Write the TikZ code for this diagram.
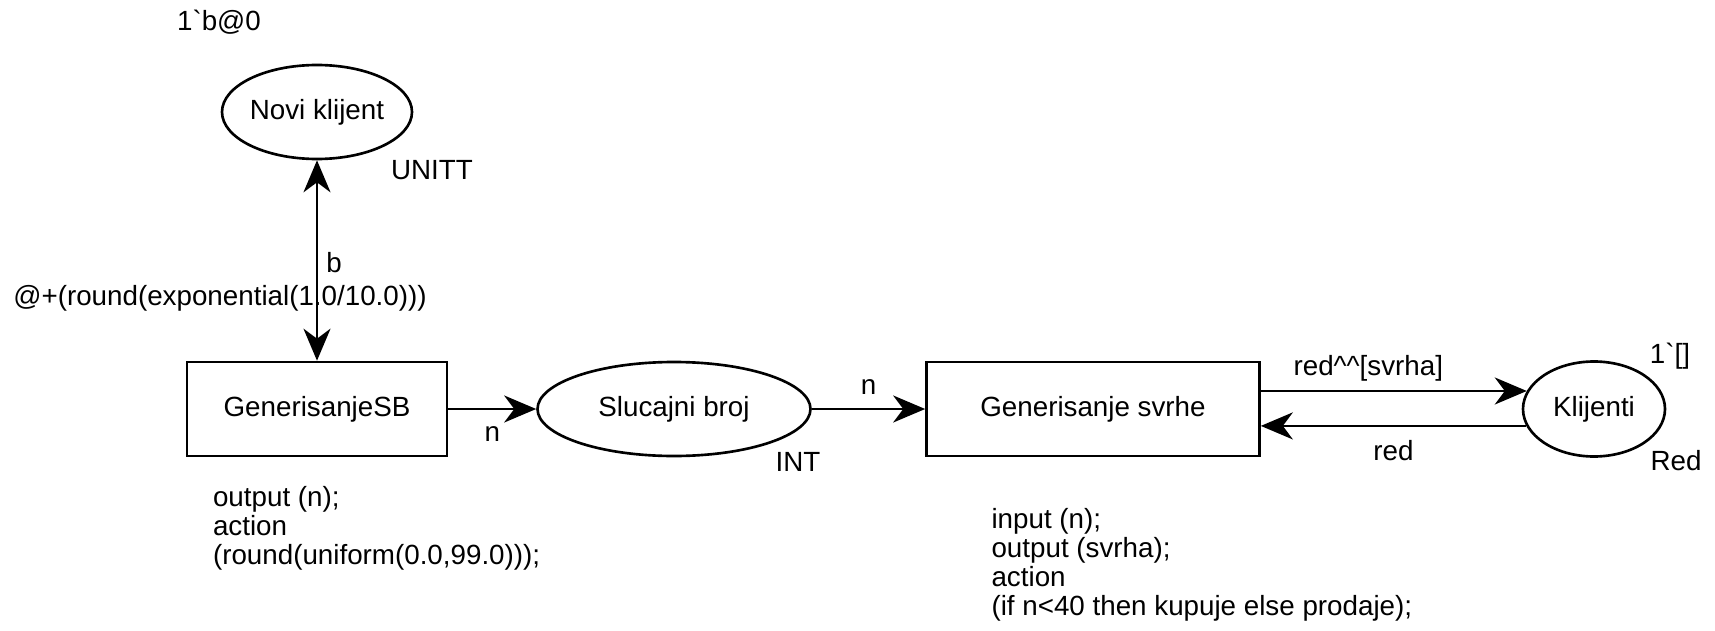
\documentclass[tikz,border=0pt]{standalone}
\usepackage{fontspec}
\setmainfont[Ligatures=TeXOff]{Liberation Sans}
\usetikzlibrary{shapes.geometric,arrows.meta}

\tikzset{
  place/.style={draw, ellipse, line width=1.5pt, inner sep=0pt, minimum height=1.88cm},
  trans/.style={draw, rectangle, line width=1.5pt, minimum height=1.88cm},
  arcline/.style={line width=1.5pt},
  lbl/.style={inner sep=0pt},
  insc/.style={inner sep=0pt, anchor=north west, align=left, font=\fontsize{15.8}{16.5}\selectfont},
}

\begin{document}
\begin{tikzpicture}[node distance=2cm, >={Stealth[length=6.4mm, width=5.4mm, inset=2mm]},
    every node/.append style={font=\fontsize{15.8}{17}\selectfont}]
  \useasboundingbox (0,0) rectangle (34.3,-12.62);
  % Mjesta i prelazi
  \node[place, minimum width=3.8cm] (novi) at (6.34,-2.24) {Novi klijent};
  \node[trans, minimum width=5.2cm, below of=novi, yshift=-3.94cm] (gensb) {GenerisanjeSB};
  \node[place, minimum width=5.46cm, right of=gensb, xshift=5.14cm] (slucajni) {Slucajni broj};
  \node[trans, minimum width=6.66cm, right of=slucajni, xshift=6.38cm] (gensv) {Generisanje svrhe};
  \node[place, minimum width=2.84cm, minimum height=1.9cm, right of=gensv, xshift=8.02cm] (klijenti) {Klijenti};
  % Pocetne vrijednosti i tipovi
  \node[lbl] (noviinit) at ([xshift=-1.96cm, yshift=1.8cm]novi) {1`b@0};
  \node[lbl] (novitip) at ([xshift=2.3cm, yshift=-1.16cm]novi) {UNITT};
  \node[lbl] (sbtip) at ([xshift=2.48cm, yshift=-1.06cm]slucajni) {INT};
  \node[lbl] (klinit) at ([xshift=1.52cm, yshift=1.06cm]klijenti) {1`[]};
  \node[lbl] (kltip) at ([xshift=1.64cm, yshift=-1.04cm]klijenti) {Red};
  % Kod prelaza
  \node[insc] (gensbkod) at ([xshift=0.54cm, yshift=-0.58cm]gensb.south west)
    {output (n);\\action\\(round(uniform(0.0,99.0)));};
  \node[insc] (gensvkod) at ([xshift=1.32cm, yshift=-1.02cm]gensv.south west)
    {input (n);\\output (svrha);\\action\\(if n<40 then kupuje else prodaje);};
  % Lukovi
  \draw[<->, arcline] (novi) -- (gensb)
    node[lbl, pos=0.51, xshift=0.34cm] {b}
    node[lbl, pos=0.69, anchor=east, xshift=2.22cm] {@+(round(exponential(1.0/10.0)))};
  \draw[->, arcline] (gensb) -- (slucajni) node[lbl, midway, yshift=-0.5cm] {n};
  \draw[->, arcline] (slucajni) -- (gensv) node[lbl, midway, yshift=0.44cm] {n};
  \draw[->, arcline] (klijenti.165.6 -| gensv.east) -- (klijenti.165.6)
    node[lbl, midway, xshift=-0.51cm, yshift=0.46cm] {red\textasciicircum\textasciicircum[svrha]};
  \draw[->, arcline] (klijenti.194.4) -- (klijenti.194.4 -| gensv.east)
    node[lbl, midway, yshift=-0.5cm] {red};
\end{tikzpicture}
\end{document}
